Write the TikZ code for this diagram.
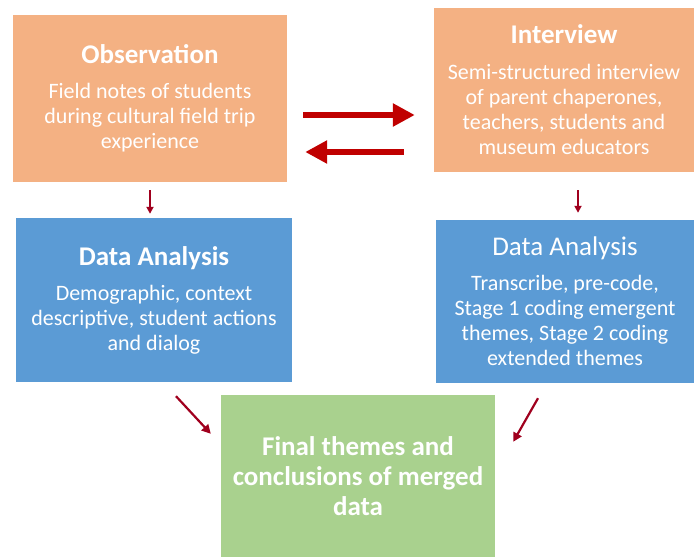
\documentclass[tikz,border=0pt]{standalone}
\usepackage{fontspec}
\setmainfont{Carlito}
\usepackage{xcolor}
\usetikzlibrary{arrows.meta}
\usetikzlibrary{positioning}
\usetikzlibrary{calc}
\definecolor{peach}{HTML}{F4B183}
\definecolor{skyblue}{HTML}{5B9BD5}
\definecolor{sage}{HTML}{A9D18E}
\definecolor{arrowred}{HTML}{C00000}
\definecolor{darkred}{HTML}{A0001E}

\begin{document}
\begin{tikzpicture}[x=1pt, y=-1pt,
	box/.style={rectangle, text=white, align=center, inner sep=0pt, font=\fontsize{22}{25}\selectfont},
	bigarrow/.style={arrowred, line width=6pt, -{Triangle[length=22pt, width=22pt]}},
	smallarrow/.style={darkred, line width=1.8pt, -{Triangle[length=7pt, width=7pt]}},
	slantarrow/.style={darkred, line width=2.2pt, -{Triangle[length=9pt, width=9pt]}}]
	\newcommand\titleSize{\fontsize{27}{30}\selectfont}
	\useasboundingbox (0,0) rectangle (696,559);
	\node[box, fill=peach, minimum width=274pt, minimum height=167pt] (obs) at (150,98.5) {{\titleSize\bfseries Observation}\\[10pt] Field notes of students\\ during cultural field trip\\ experience};
	\node[box, fill=peach, minimum width=260pt, minimum height=164pt] (int) at (564,90) {{\titleSize\bfseries Interview}\\[11pt] Semi-structured interview\\ of parent chaperones,\\ teachers, students and\\ museum educators};
	\node[box, fill=skyblue, minimum width=276pt, minimum height=164pt] (da1) at (154,300) {{\titleSize\bfseries Data Analysis}\\[10pt] Demographic, context\\ descriptive, student actions\\ and dialog};
	\node[box, fill=skyblue, minimum width=258pt, minimum height=163pt] (da2) at (565,301.5) {{\titleSize Data Analysis}\\[10pt] Transcribe, pre-code,\\ Stage 1 coding emergent\\ themes, Stage 2 coding\\ extended themes};
	\node[box, fill=sage, minimum width=274pt, minimum height=162pt, font=\fontsize{27}{30}\selectfont\bfseries] (fin) at (358,476) {Final themes and\\ conclusions of merged\\ data};
	% back and forth between the two sources
	\draw[bigarrow] ($(obs.east)+(16,16.5)$) -- ($(int.west)+(-19,25)$);
	\draw[bigarrow] ($(int.west)+(-30,62)$) -- ($(obs.east)+(18,53.5)$);
	\draw[smallarrow] ($(obs.south)+(0,8)$) -- ($(da1.north)+(-4,-4)$);
	\draw[smallarrow] ($(int.south)+(14,18)$) -- ($(da2.north)+(13,-7)$);
	\draw[slantarrow] ($(da1.south)+(22,14)$) -- ($(fin.north west)+(-10,39)$);
	\draw[slantarrow] ($(da2.south)+(-27,15)$) -- ($(fin.north east)+(18,47)$);
\end{tikzpicture}
\end{document}
